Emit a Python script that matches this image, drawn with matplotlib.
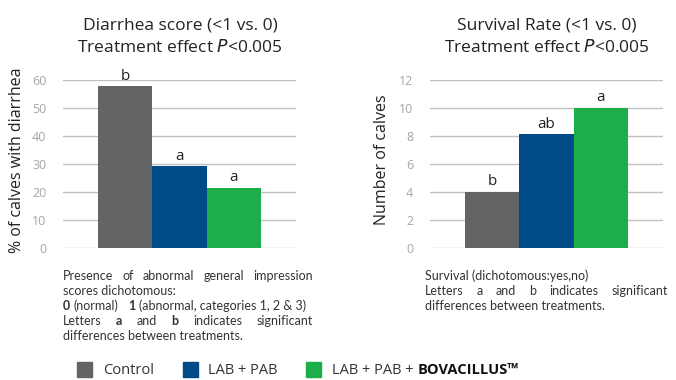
import numpy as np
import matplotlib
matplotlib.use("Agg")
import matplotlib.pyplot as plt
from matplotlib.patches import Rectangle

# data
groups = ["Control", "LAB + PAB", "LAB + PAB + "]
colors = ["#636466", "#004a87", "#1bae4b"]
diarrhea = [57.7, 29.2, 21.4]
diarrhea_letters = ["b", "a", "a"]
survival = [4.0, 8.1, 10.0]
survival_letters = ["b", "ab", "a"]

W, H = 676, 380
plt.rcParams["font.family"] = ["Open Sans", "DejaVu Sans"]
fig = plt.figure(figsize=(W / 100, H / 100), dpi=100)


def fx(px):
    return px / W


def fy(py):
    return 1 - py / H


def bar_panel(x0, x1, vals, letters, ymax, step, ylabel, title, ylab_x, title_x):
    ax = fig.add_axes([fx(x0), fy(248), fx(x1) - fx(x0), fy(79.7) - fy(248)])
    pos = np.arange(len(vals))
    ax.bar(pos, vals, width=1.0, color=colors, zorder=3)
    for p, v, l in zip(pos, vals, letters):
        ax.text(p, v + ymax * 0.015, l, ha="center", va="bottom",
                fontsize=11, color="#222222")
    ax.set_xlim(-1.14, 3.14)
    ax.set_ylim(0, ymax)
    ax.set_yticks(np.arange(0, ymax + 0.1, step))
    ax.set_xticks([])
    ax.tick_params(axis="y", length=0, labelsize=9, labelcolor="#a6a6a6", pad=12)
    ax.grid(axis="y", color="#c0c0c0", linewidth=1.0, zorder=0)
    for s in ax.spines.values():
        s.set_visible(False)
    fig.text(fx(ylab_x), 0.5 * (fy(65) + fy(255)), ylabel, rotation=90,
             ha="center", va="center", fontsize=11.5, color="#222222")
    fig.text(fx(title_x), fy(25), title[0], ha="center", va="center",
             fontsize=12.5, color="#222222")
    fig.text(fx(title_x), fy(48), title[1], ha="center", va="center",
             fontsize=12.5, color="#222222")
    return ax


bar_panel(63, 296, diarrhea, diarrhea_letters, 60, 10,
          "% of calves with diarrhea",
          ["Diarrhea score (<1 vs. 0)", "Treatment effect $\\it{P}$<0.005"], 17, 180)
bar_panel(430, 663, survival, survival_letters, 12, 2,
          "Number of calves",
          ["Survival Rate (<1 vs. 0)", "Treatment effect $\\it{P}$<0.005"], 382, 547)

# footnotes, word-by-word so the lines can be justified
renderer = fig.canvas.get_renderer()
note_kw = dict(fontsize=9, color="#333333", family=["Lato", "DejaVu Sans"], va="baseline")


def width_of(s, bold=False, **kw):
    opts = dict(note_kw)
    opts.update(kw)
    t = fig.text(0, 0, s, fontweight="bold" if bold else "normal", **opts)
    w = t.get_window_extent(renderer).width
    t.remove()
    return w


space = width_of("x x") - width_of("xx")


def place_line(tokens, x0, x1, y, justify=False, gaps=None):
    widths = [width_of(t, b) for t, b in tokens]
    if justify and len(tokens) > 1:
        gap = (x1 - x0 - sum(widths)) / (len(tokens) - 1)
        gaps = [gap] * (len(tokens) - 1)
    elif gaps is None:
        gaps = [space] * (len(tokens) - 1)
    x = x0
    for i, (t, b) in enumerate(tokens):
        fig.text(fx(x), fy(y), t, fontweight="bold" if b else "normal", **note_kw)
        if i < len(gaps):
            x += widths[i] + gaps[i]


def words(s):
    return [(w, False) for w in s.split()]


place_line(words("Presence of abnormal general impression"), 63, 313, 280, justify=True)
place_line([("scores dichotomous:", False)], 63, 313, 295)
place_line([("0", True), ("(normal)", False), ("1", True),
            ("(abnormal, categories 1, 2 & 3)", False)], 63, 313, 310,
           gaps=[space, 3 * space, space])
place_line([("Letters", False), ("a", True), ("and", False), ("b", True),
            ("indicates", False), ("significant", False)], 63, 313, 325, justify=True)
place_line([("differences between treatments.", False)], 63, 313, 340)

place_line([("Survival (dichotomous:yes,no)", False)], 425, 668, 280)
place_line([("Letters", False), ("a", False), ("and", False), ("b", False),
            ("indicates", False), ("significant", False)], 425, 668, 295, justify=True)
place_line([("differences between treatments.", False)], 425, 668, 310)

# legend along the bottom
leg_kw = dict(fontsize=10.5, color="#333333", va="center", ha="left")
sq_x = [77, 183, 306]
txt_x = [103, 208, 332]
for i, (g, c) in enumerate(zip(groups, colors)):
    fig.add_artist(Rectangle((fx(sq_x[i]), fy(377)), fx(15), fy(362) - fy(377),
                             transform=fig.transFigure, color=c))
    t = fig.text(fx(txt_x[i]), fy(370), g, **leg_kw)
    if i == 2:
        w = t.get_window_extent(renderer).width
        fig.text(fx(txt_x[i] + w), fy(370), "BOVACILLUS™",
                 fontweight="bold", fontsize=10.5, color="#111111", va="center", ha="left")

fig.savefig("out.png", dpi=100)
